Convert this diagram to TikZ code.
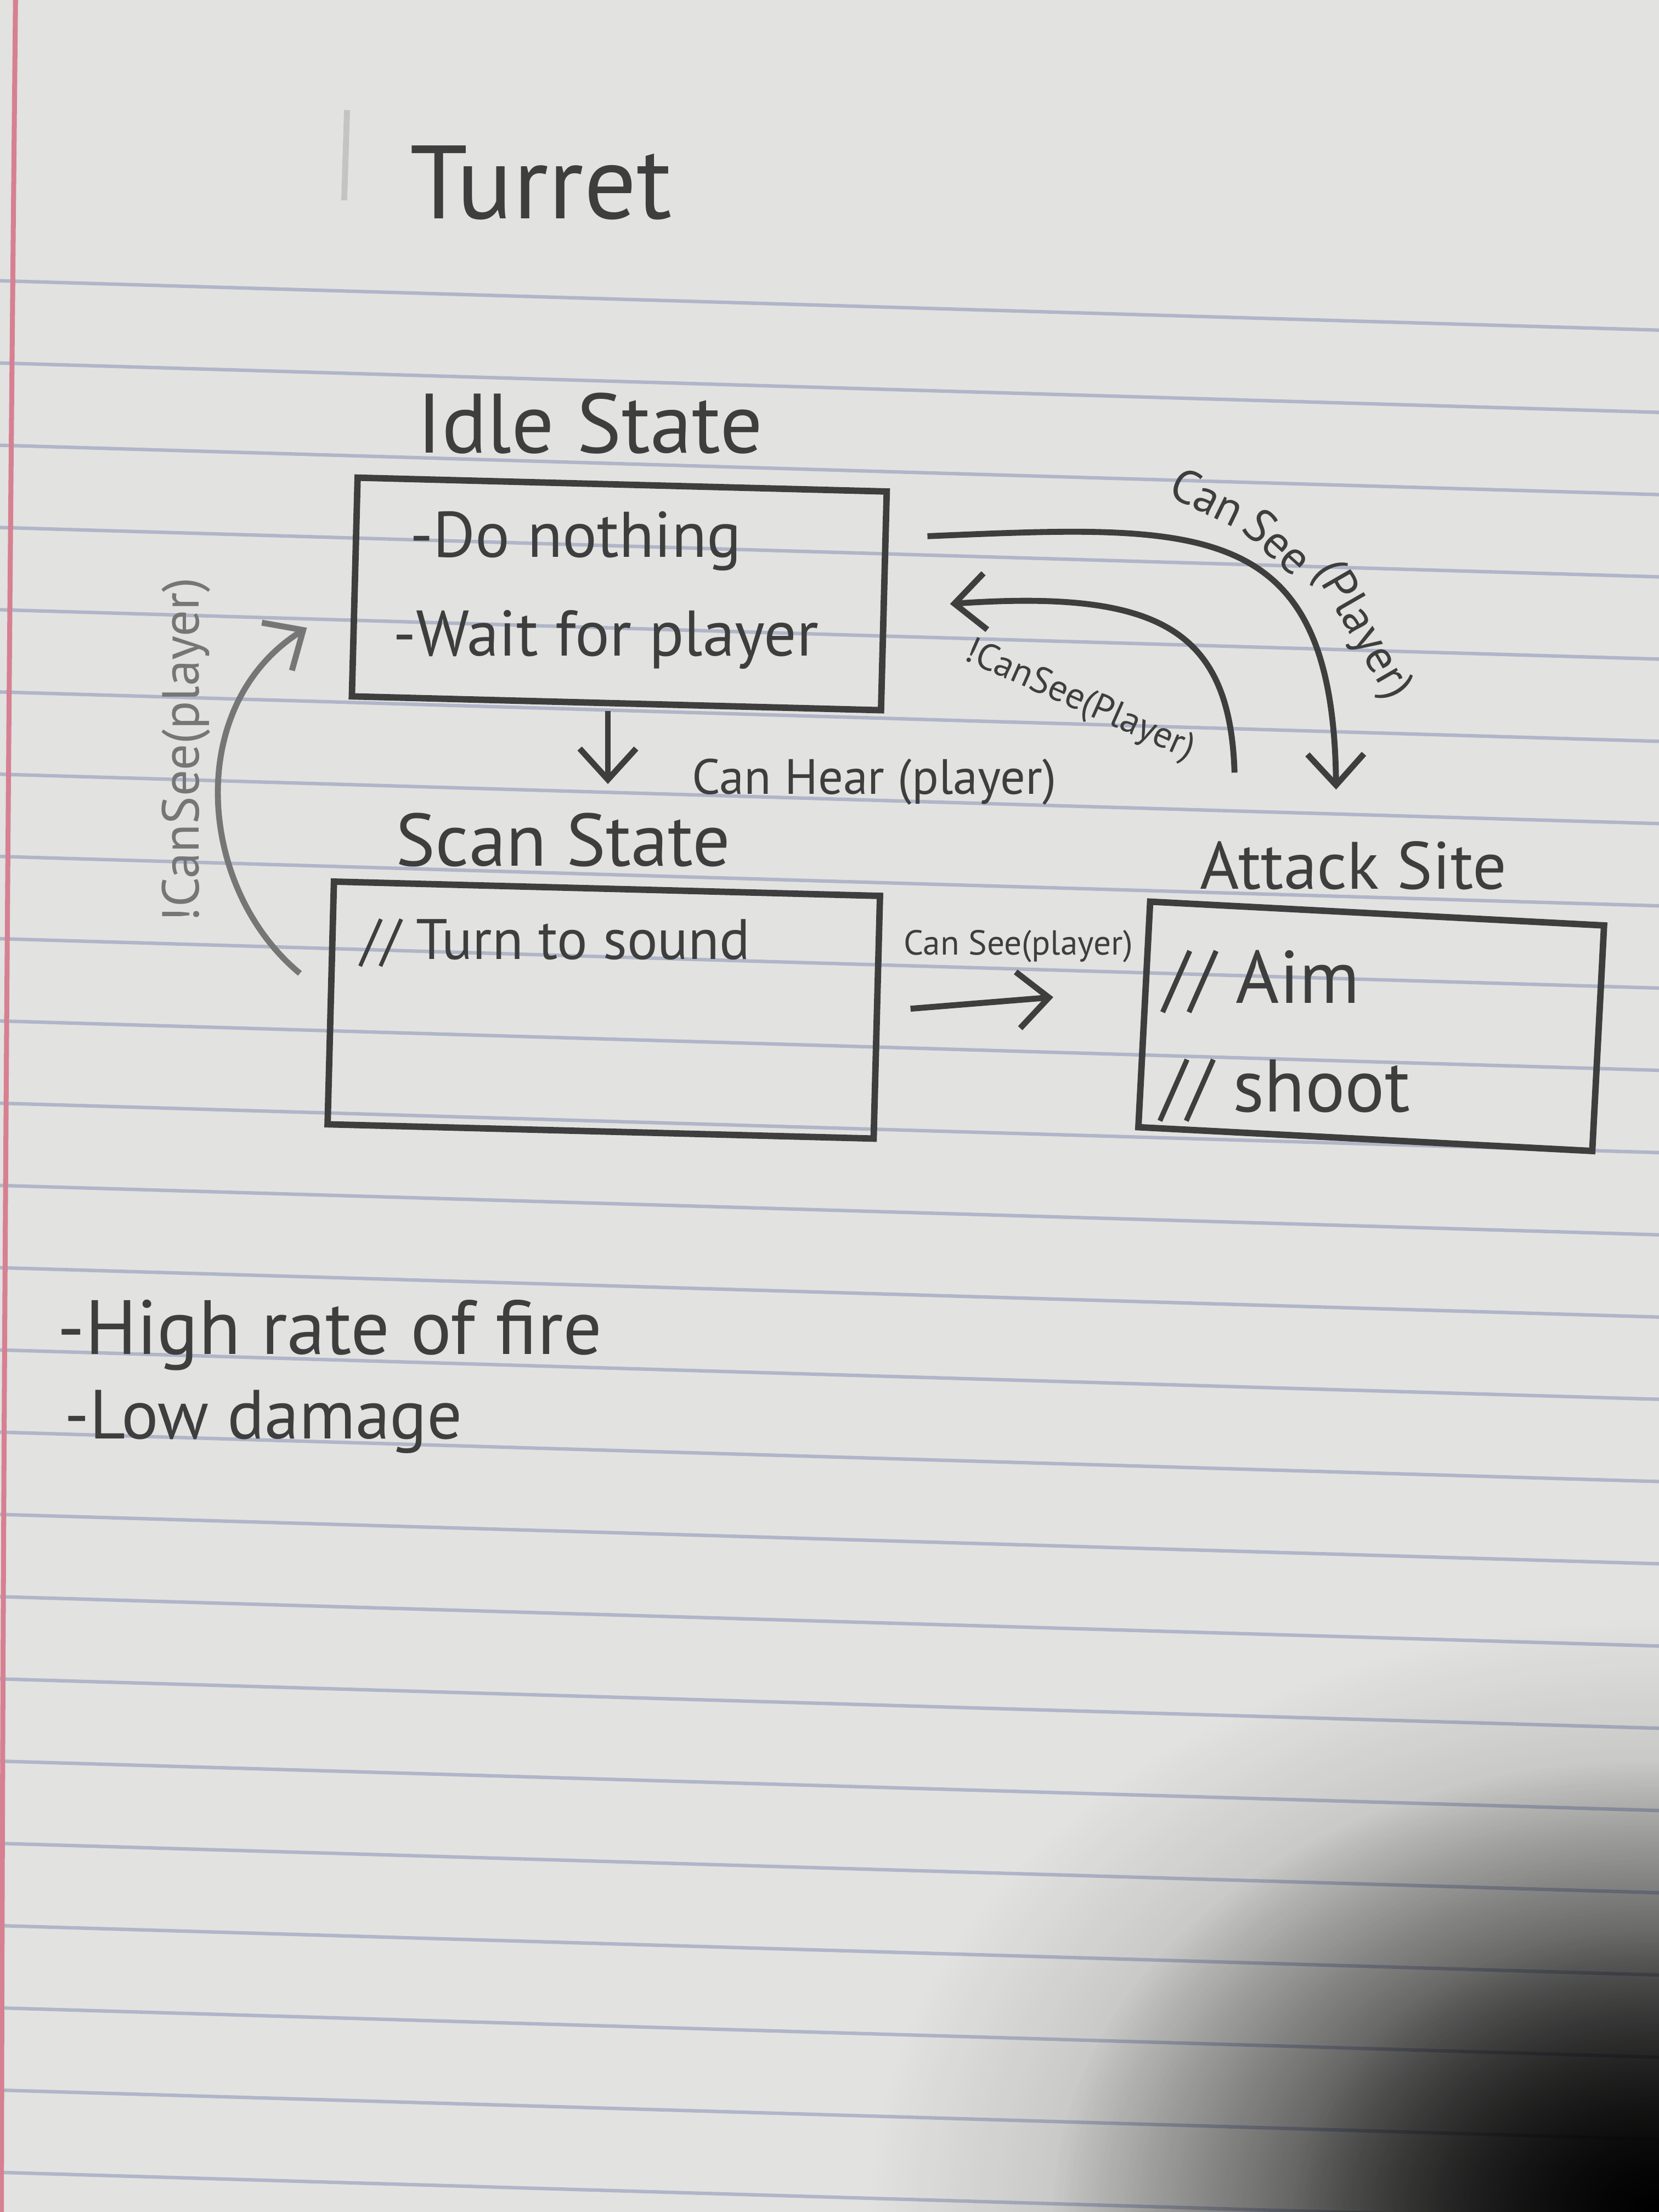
\documentclass[tikz,border=0pt]{standalone}
\usepackage{fontspec}
\setmainfont{PT Sans}
\usetikzlibrary{arrows.meta,calc,fadings}
\definecolor{paper}{RGB}{226,226,224}
\definecolor{rulecol}{RGB}{176,182,200}
\definecolor{margincol}{RGB}{214,128,146}
\definecolor{pencil}{RGB}{62,62,62}
\definecolor{softpencil}{RGB}{118,118,118}
\definecolor{smudge}{RGB}{196,196,194}
\tikzfading[name=cornerfade, inner color=transparent!0, outer color=transparent!100]

\newcommand{\fsz}[1]{\fontsize{#1}{#1}\selectfont}

\begin{document}
\begin{tikzpicture}[x=0.01cm,y=0.01cm,
  hand/.style={text=pencil, inner sep=0pt, anchor=base west},
  arclabel/.style={text=pencil, inner sep=0pt, font=\fsz{9.5}},
  statebox/.style={draw=pencil, line width=1.3pt, inner sep=0pt},
  arr/.style={draw=pencil, line width=1.2pt,
    -{Straight Barb[length=2.2mm,width=4mm,line width=1.2pt]}},
]
\useasboundingbox (0,0) rectangle (1176,-1568);

% ruled notebook page
\fill[paper] (0,0) rectangle (1176,-1568);
\foreach \k in {0,...,23} {
  \draw[rulecol, line width=0.7pt] (0,{-(199+58.3*\k)}) -- (1176,{-(234+58.3*\k)});
}
\draw[margincol, line width=1pt] (11,0) .. controls (6,-500) and (2,-1000) .. (1,-1568);
\draw[smudge, line width=1.2pt] (246,-78) -- (244,-142);

% dark corner at the lower right
\fill[black, opacity=0.45, path fading=cornerfade] (1176,-1568) ellipse (560 and 420);
\fill[black, opacity=1, path fading=cornerfade] (1176,-1568) ellipse (430 and 320);
\fill[black, opacity=0.6, path fading=cornerfade] (1176,-1568) ellipse (260 and 200);

% heading
\node[hand, font=\fsz{21}] (title) at (290,-155) {Turret};

% idle state
\node[hand, font=\fsz{17}] (idleT) at (295,-321) {Idle State};
\node[statebox, rotate=-1.5, minimum width=3.75cm, minimum height=1.55cm] (idle) at (439,-421) {};
\node[hand, font=\fsz{13}] (idle1) at (290,-395) {-Do nothing};
\node[hand, font=\fsz{13}] (idle2) at (278,-465) {-Wait for player};

% scan state
\node[hand, font=\fsz{15}] (scanT) at (280,-614) {Scan State};
\node[statebox, rotate=-1.5, minimum width=3.87cm, minimum height=1.72cm] (scan) at (428,-716) {};
\node[hand, font=\fsz{11.5}] (scan1) at (255,-680) {// Turn to sound};

% attack state
\node[hand, font=\fsz{13.5}] (attackT) at (850,-630) {Attack Site};
\node[statebox, rotate=-3, minimum width=3.22cm, minimum height=1.6cm] (attack) at (972,-727.5) {};
\node[hand, font=\fsz{15}] (attack1) at (824,-711) {// Aim};
\node[hand, font=\fsz{15}] (attack2) at (822,-788) {// shoot};

% notes
\node[hand, font=\fsz{15.5}] (note1) at (40,-960) {-High rate of fire};
\node[hand, font=\fsz{14}] (note2) at (45,-1020) {-Low damage};

% transitions
\draw[arr] ($(idle.south)+(-6,-3)$) -- ($(scanT.north -| idle.south)+(-6,20)$);
\node[hand, font=\fsz{10}] (hearL) at (490,-563) {Can Hear (player)};

\draw[arr] ($(scan.east)+(21.6,6.1)$) -- ($(attack.west)+(-62.2,12.1)$);
\node[hand, font=\fsz{7}] (seeL) at (640,-677) {Can See(player)};

\draw[arr] ($(idle.east)+(28.6,45.9)$) .. controls (850,-372) and (945,-365) .. ($(attack.north)+(-29.2,85.6)$);
\node[arclabel, rotate=-26] (seeA) at (856,-352) {Can};
\node[arclabel, rotate=-42] (seeB) at (906,-384) {See};
\node[arclabel, rotate=-60] (seeC) at (965,-447) {(Player)};

\draw[arr] ($(attack.north)+(-101.2,97.6)$) .. controls (872,-445) and (820,-418) .. ($(idle.east)+(44.6,-2.1)$);
\node[text=pencil, inner sep=0pt, rotate=-24, font=\fsz{7.5}] (lostR) at (765,-497) {!CanSee(Player)};

\draw[arr, draw=softpencil] ($(scan.west)+(-19.6,20.9)$) .. controls (140,-630) and (130,-500) .. ($(idle.west)+(-31.6,-28.9)$);
\node[text=softpencil, rotate=90, inner sep=0pt, font=\fsz{10.5}] (lostL) at (132,-532) {!CanSee(player)};
\end{tikzpicture}
\end{document}
